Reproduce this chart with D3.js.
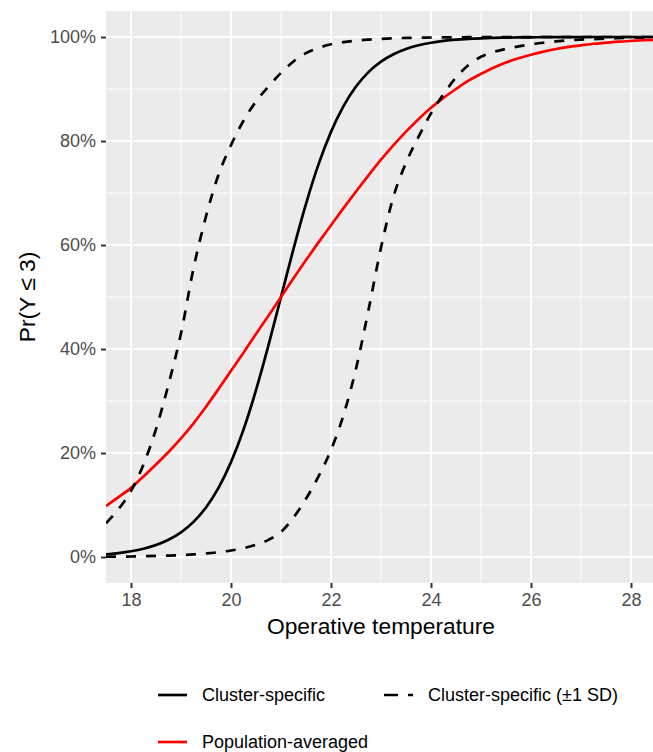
<!DOCTYPE html>
<html>
<head>
<meta charset="utf-8">
<script src="https://cdn.jsdelivr.net/npm/d3@7"></script>
<style>
  html, body { margin: 0; padding: 0; background: #ffffff; }
  svg { display: block; }
  text { font-family: "Liberation Sans", Arial, sans-serif; }
</style>
</head>
<body>
<div id="chart"></div>
<script>
// ---- data ----
const temperature = [17.5, 17.75, 18, 18.25, 18.5, 18.75, 19, 19.25, 19.5, 19.75,
                     20, 20.25, 20.5, 20.75, 21, 21.25, 21.5, 21.75, 22, 22.25,
                     22.5, 22.75, 23, 23.25, 23.5, 23.75, 24, 24.25, 24.5, 24.75,
                     25, 25.25, 25.5, 25.75, 26, 26.25, 26.5, 26.75, 27, 27.25,
                     27.5, 27.75, 28, 28.25, 28.5];
// Pr(Y <= 3), in percent
const clusterSpecific = [0.52, 0.76, 1.10, 1.59, 2.30, 3.31, 4.74, 6.75, 9.53, 13.29,
                         18.24, 24.50, 32.08, 40.73, 50, 59.27, 67.92, 75.50, 81.76, 86.71,
                         90.47, 93.25, 95.26, 96.69, 97.70, 98.41, 98.90, 99.24, 99.48, 99.64,
                         99.75, 99.83, 99.88, 99.92, 99.94, 99.96, 99.97, 99.98, 99.99, 100,
                         100, 100, 100, 100, 100];
const clusterLowerSD  = [6.5, 9.2, 12.7, 17.8, 24.6, 33.2, 43.0, 55.5, 65.5, 73.5,
                         79.2, 83.9, 87.6, 90.5, 93.1, 95.3, 96.9, 97.9, 98.6, 99.0,
                         99.3, 99.5, 99.65, 99.75, 99.82, 99.87, 99.9, 99.93, 99.95, 99.96,
                         99.97, 99.98, 99.98, 99.99, 99.99, 100, 100, 100, 100, 100,
                         100, 100, 100, 100, 100];
const clusterUpperSD  = [0.05, 0.07, 0.1, 0.14, 0.2, 0.27, 0.37, 0.5, 0.68, 0.92,
                         1.25, 1.7, 2.35, 3.3, 4.8, 7.6, 11.2, 15.5, 20.6, 27.3,
                         36.2, 47.5, 59.5, 69.3, 75.8, 80.8, 85.3, 89, 92.2, 94.6,
                         96.2, 97.1, 97.7, 98.2, 98.6, 98.9, 99.15, 99.35, 99.5, 99.6,
                         99.7, 99.78, 99.84, 99.88, 99.9];
const populationAveraged = [9.8, 11.5, 13.3, 15.5, 17.8, 20.2, 22.8, 25.7, 28.9, 32.3,
                            35.8, 39.3, 42.9, 46.4, 50, 53.6, 57.1, 60.5, 63.8, 67.1,
                            70.3, 73.4, 76.4, 79.2, 81.8, 84.2, 86.4, 88.3, 90, 91.6,
                            92.9, 94.1, 95.1, 95.9, 96.6, 97.2, 97.7, 98.1, 98.4, 98.7,
                            98.9, 99.1, 99.25, 99.38, 99.48];
const xTicks = [18, 20, 22, 24, 26, 28];
const xMinor = [17, 19, 21, 23, 25, 27];
const yTicks = [0, 20, 40, 60, 80, 100];
const yMinor = [10, 30, 50, 70, 90];
const legendLabels = ["Cluster-specific", "Cluster-specific (\u00B11 SD)", "Population-averaged"];

// ---- layout ----
const W = 653, H = 752;
const panel = { left: 106, right: 656, top: 11, bottom: 583 };

const svg = d3.select("#chart").append("svg")
  .attr("width", W).attr("height", H);

const x = d3.scaleLinear().domain([17.5, 28.5]).range([panel.left, panel.right]);
const y = d3.scaleLinear().domain([-5, 105]).range([panel.bottom, panel.top]);

// panel background
svg.append("rect")
  .attr("x", panel.left).attr("y", panel.top)
  .attr("width", panel.right - panel.left).attr("height", panel.bottom - panel.top)
  .attr("fill", "#EBEBEB");

const grid = svg.append("g");
grid.selectAll(".xminor").data(xMinor).join("line")
  .attr("x1", d => x(d)).attr("x2", d => x(d))
  .attr("y1", panel.top).attr("y2", panel.bottom)
  .attr("stroke", "#ffffff").attr("stroke-width", 1);
grid.selectAll(".yminor").data(yMinor).join("line")
  .attr("y1", d => y(d)).attr("y2", d => y(d))
  .attr("x1", panel.left).attr("x2", panel.right)
  .attr("stroke", "#ffffff").attr("stroke-width", 1);
grid.selectAll(".xmajor").data(xTicks).join("line")
  .attr("x1", d => x(d)).attr("x2", d => x(d))
  .attr("y1", panel.top).attr("y2", panel.bottom)
  .attr("stroke", "#ffffff").attr("stroke-width", 2);
grid.selectAll(".ymajor").data(yTicks).join("line")
  .attr("y1", d => y(d)).attr("y2", d => y(d))
  .attr("x1", panel.left).attr("x2", panel.right)
  .attr("stroke", "#ffffff").attr("stroke-width", 2);

svg.append("clipPath").attr("id", "clip").append("rect")
  .attr("x", panel.left).attr("y", panel.top)
  .attr("width", panel.right - panel.left).attr("height", panel.bottom - panel.top);

const line = d3.line()
  .x((d, i) => x(temperature[i]))
  .y(d => y(d))
  .curve(d3.curveMonotoneX);

const series = [
  { values: clusterSpecific, color: "#000000", dash: null },
  { values: populationAveraged, color: "#FF0000", dash: null },
  { values: clusterLowerSD, color: "#000000", dash: "10,10" },
  { values: clusterUpperSD, color: "#000000", dash: "10,10" }
];

const lines = svg.append("g").attr("clip-path", "url(#clip)");
lines.selectAll("path").data(series).join("path")
  .attr("d", d => line(d.values))
  .attr("fill", "none")
  .attr("stroke", d => d.color)
  .attr("stroke-width", 2.7)
  .attr("stroke-dasharray", d => d.dash);

// axes
const xAxis = d3.axisBottom(x).tickValues(xTicks).tickSize(5).tickPadding(5)
  .tickFormat(d3.format("d"));
const gx = svg.append("g").attr("transform", `translate(0,${panel.bottom})`).call(xAxis);
gx.select(".domain").remove();
gx.selectAll(".tick line").attr("stroke", "#333333").attr("stroke-width", 2);
gx.selectAll(".tick text").attr("fill", "#4D4D4D").attr("font-size", 18)
  .attr("font-family", "Liberation Sans, Arial, sans-serif");

const yAxis = d3.axisLeft(y).tickValues(yTicks).tickSize(5).tickPadding(5)
  .tickFormat(d => d + "%");
const gy = svg.append("g").attr("transform", `translate(${panel.left},0)`).call(yAxis);
gy.select(".domain").remove();
gy.selectAll(".tick line").attr("stroke", "#333333").attr("stroke-width", 2);
gy.selectAll(".tick text").attr("fill", "#4D4D4D").attr("font-size", 18)
  .attr("font-family", "Liberation Sans, Arial, sans-serif");

// axis titles
svg.append("text")
  .attr("x", (panel.left + panel.right) / 2).attr("y", 634)
  .attr("text-anchor", "middle").attr("font-size", 22.8).attr("fill", "#000000")
  .text("Operative temperature");

svg.append("text")
  .attr("transform", `translate(35,${(panel.top + panel.bottom) / 2}) rotate(-90)`)
  .attr("text-anchor", "middle").attr("font-size", 22.8).attr("fill", "#000000")
  .text("Pr(Y \u2264 3)");

// legend
const legendItems = [
  { label: legendLabels[0], color: "#000000", dash: null, kx: 158, ky: 695 },
  { label: legendLabels[1], color: "#000000", dash: "14,10,5,100", kx: 384, ky: 695 },
  { label: legendLabels[2], color: "#FF0000", dash: null, kx: 158, ky: 742 }
];
const lg = svg.append("g");
lg.selectAll("line").data(legendItems).join("line")
  .attr("x1", d => d.kx).attr("x2", d => d.kx + 29)
  .attr("y1", d => d.ky).attr("y2", d => d.ky)
  .attr("stroke", d => d.color).attr("stroke-width", 2.7)
  .attr("stroke-dasharray", d => d.dash);
lg.selectAll("text").data(legendItems).join("text")
  .attr("x", d => d.kx + 44).attr("y", d => d.ky + 6.4)
  .attr("font-size", 18).attr("fill", "#000000")
  .text(d => d.label);
</script>
</body>
</html>
